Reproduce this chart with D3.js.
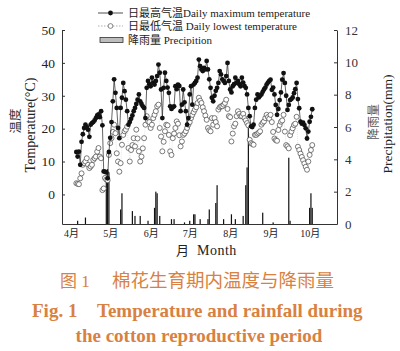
<!DOCTYPE html>
<html>
<head>
<meta charset="utf-8">
<script src="https://cdn.jsdelivr.net/npm/d3@7"></script>
<style>
    html, body { margin: 0; padding: 0; background: #fff; }
    svg { display: block; }
    text { font-family: "Liberation Serif", "Noto Sans CJK SC", serif; }
</style>
</head>
<body>
<div id="chart"></div>
<script>
const year = 2018;
const firstDay = "04-05";

// daily maximum temperature, Apr 5 – Oct 3 (°C)
const tMax = [
    12.9, 11.5, 13, 9, 16, 18.3, 20.2, 21.2, 20.5, 19.7,
    17.5, 21.2, 21.7, 22, 22.5, 23.2, 24, 24.3, 23.5, 25.3,
    21, 7, 6.9, 6.7, 4.9, 12.9, 17.2, 22, 28.3, 35,
    30.9, 26.3, 20.2, 17.1, 26.3, 29.4, 33.9, 31.4, 28.8, 25.3,
    21.2, 22, 23, 24, 25.3, 26.3, 27.5, 28.8, 30.4, 28.3,
    27.5, 26.8, 26.3, 23.2, 32.4, 34.5, 33.5, 32.9, 35.5, 34,
    33.4, 34.5, 36, 39.5, 37, 31.9, 23.2, 32.4, 37, 34.5,
    32.5, 30.9, 26.8, 26, 26.5, 26.8, 32.9, 32, 33.4, 33,
    25.3, 27.3, 31.9, 28, 25.3, 21.2, 23.2, 30.4, 32.9, 27.3,
    33.4, 33.9, 34.5, 35.5, 41, 39, 38, 37.5, 38.5, 38,
    40.6, 38, 35, 32.4, 29.4, 28.3, 30, 31.5, 32.4, 33.9,
    37.5, 36.5, 35, 34.5, 33.9, 36, 40, 34.5, 31.9, 31,
    32.9, 33.5, 35.5, 33.9, 34.5, 33.5, 32.9, 35.5, 34, 33,
    32.4, 30.4, 26.3, 23.8, 20.7, 20.5, 21.2, 26.3, 28.8, 30.4,
    29.5, 30, 30.4, 31.2, 31.9, 32.5, 33.4, 34, 34.5, 34.9,
    31.8, 32.5, 30.4, 27.2, 24.2, 26, 28.7, 31, 34.9, 36.9,
    33.9, 30, 25.7, 27.2, 28.7, 29, 29.5, 30.8, 32, 33.9,
    29, 26.2, 22.1, 21.5, 21.8, 21.1, 20.1, 17, 19.1, 22.1,
    23.6, 25.9
];

// daily lowest temperature, same days (°C)
const tMin = [
    3.4, 3.2, 3.1, 4.9, 6.4, 9, 9.5, 10, 11, 9,
    8, 8.5, 9, 10.5, 11, 11.5, 13, 14.1, 11.5, 11,
    1.3, 1.8, 5, 4.5, 4.3, 12, 15.6, 17.1, 19, 21.2,
    18.6, 12.5, 10, 6.9, 9.5, 15.1, 18.1, 19.2, 19.7, 20.6,
    14.1, 10, 13.5, 15, 17.1, 14.6, 19.7, 17, 13.1, 10,
    11.5, 14, 17.1, 21.2, 23.8, 22.2, 22, 20.2, 21.2, 23.2,
    24.2, 25.3, 26.8, 27.3, 20.2, 17.6, 13.1, 16, 19.2, 21.2,
    21, 18.1, 13.1, 12, 17.1, 18.5, 20.2, 22.2, 21.5, 18,
    14.6, 16.1, 18.1, 18.5, 19.2, 20.2, 21.2, 22, 23.2, 24.2,
    25, 25.8, 26.5, 27.8, 29.4, 28.5, 27.8, 26.5, 25.3, 24,
    22.7, 20.2, 19.5, 19.2, 23.2, 21.2, 23.2, 22, 20.7, 25.8,
    26.5, 26.8, 26.8, 27.3, 27.8, 28.8, 26, 23.8, 23.5, 16.1,
    18.5, 20.7, 21.5, 23.8, 25.3, 24.5, 23.8, 23.8, 24.5, 23.2,
    22.5, 21.7, 21, 16.6, 15.6, 15.3, 15.1, 18.1, 18.1, 18.5,
    18.8, 19.2, 21.2, 21.8, 22.2, 23.2, 24.2, 23.5, 23, 24.2,
    22, 19, 17, 16.5, 16.3, 19.6, 21.1, 22.1, 22.5, 24.2,
    19.1, 15, 14.6, 14, 18, 19.1, 20.1, 21.1, 21.5, 23.6,
    14.5, 13.5, 12.4, 11.4, 10.4, 9.4, 8.4, 7.5, 10, 12,
    13.5, 15
];

const rainDays = [
    "04-06", "04-12", "04-28", "04-29", "04-30", "05-09", "05-10", "05-18", "05-20", "05-24",
    "05-30", "06-04", "06-05", "06-06", "06-08", "06-17", "06-19", "06-27", "07-01", "07-04",
    "07-05", "07-09", "07-15", "07-16", "07-21", "07-22", "07-27", "08-02", "08-05", "08-11",
    "08-13", "08-14", "08-15", "08-26", "09-03", "09-15", "09-16", "10-01", "10-02", "10-03"
];
const rainMm = [
    0.2, 0.4, 2.8, 3.4, 3.2, 0.9, 1.9, 0.8, 0.5, 0.5,
    0.2, 1.0, 2.0, 1.9, 0.5, 0.3, 0.3, 0.1, 0.2, 0.6,
    0.6, 0.3, 0.3, 0.9, 1.3, 2.4, 0.3, 0.6, 0.3, 0.5,
    2.4, 3.5, 6.2, 0.7, 0.1, 4.1, 0.2, 1.0, 1.9, 1.0
];

const monthStarts = ["04-01", "05-01", "06-01", "07-01", "08-01", "09-01", "10-01"];
const monthLabels = ["4月", "5月", "6月", "7月", "8月", "9月", "10月"];
const tempTicks = [0, 10, 20, 30, 40, 50];
const rainTicks = [0, 2, 4, 6, 8, 10, 12];

const legendLabels = [
    "日最高气温Daily maximum temperature",
    "日最低气温 Daily lowest temperature",
    "降雨量 Precipition"
];
const captionCn = ["图 1", "棉花生育期内温度与降雨量"];
const captionEn = ["Fig. 1", "Temperature and rainfall during", "the cotton reproductive period"];

const W = 400, H = 351;
const orange = "#d98140";
const parseDay = d3.timeParse("%Y-%m-%d");
const toDate = md => parseDay(`${year}-${md}`);

renderChart(document.querySelector("#chart"));

function renderChart(parent){
    const svg = d3.select(parent).append("svg")
        .attr("width", W)
        .attr("height", H);

    const x = d3.scaleTime()
        .domain([toDate("03-25"), toDate("10-22")])
        .range([62, 337]);
    const yT = d3.scaleLinear().domain([-9, 50]).range([224, 30]);
    const yP = d3.scaleLinear().domain([0, 12]).range([224, 30]);

    const start = toDate(firstDay);
    const days = tMax.map((v, i) => ({
        date: d3.timeDay.offset(start, i),
        max: v,
        min: tMin[i]
    }));
    const rain = rainDays.map((d, i) => ({date: toDate(d), mm: rainMm[i]}));

    // rain bars
    svg.append("g")
        .selectAll("rect")
        .data(rain)
        .join("rect")
        .attr("x", d => x(d.date) - 0.6)
        .attr("width", 1.2)
        .attr("y", d => yP(d.mm))
        .attr("height", d => yP(0) - yP(d.mm))
        .attr("fill", "#111");

    // lowest temperature
    svg.append("path")
        .datum(days)
        .attr("d", d3.line().x(d => x(d.date)).y(d => yT(d.min)))
        .attr("fill", "none")
        .attr("stroke", "#cfcfcf")
        .attr("stroke-width", 0.5)
        .attr("stroke-dasharray", "1,1");

    svg.append("g")
        .selectAll("circle")
        .data(days)
        .join("circle")
        .attr("cx", d => x(d.date))
        .attr("cy", d => yT(d.min))
        .attr("r", 2.5)
        .attr("fill", "#fff")
        .attr("stroke", "#444")
        .attr("stroke-width", 0.7);

    // maximum temperature
    svg.append("path")
        .datum(days)
        .attr("d", d3.line().x(d => x(d.date)).y(d => yT(d.max)))
        .attr("fill", "none")
        .attr("stroke", "#222")
        .attr("stroke-width", 0.7);

    svg.append("g")
        .selectAll("circle")
        .data(days)
        .join("circle")
        .attr("cx", d => x(d.date))
        .attr("cy", d => yT(d.max))
        .attr("r", 2.4)
        .attr("fill", "#111");

    // axes
    const left = svg.append("g")
        .attr("transform", "translate(62,0)")
        .call(d3.axisLeft(yT).tickValues(tempTicks).tickSize(-3).tickSizeOuter(0).tickPadding(7));
    left.selectAll("text")
        .attr("font-family", "Liberation Serif")
        .attr("font-size", 13.5)
        .attr("fill", "#222");

    const right = svg.append("g")
        .attr("transform", "translate(337,0)")
        .call(d3.axisRight(yP).tickValues(rainTicks).tickSize(-3).tickSizeOuter(0).tickPadding(8));
    right.selectAll("text")
        .attr("font-family", "Liberation Sans")
        .attr("font-size", 13)
        .attr("fill", "#333");

    const bottom = svg.append("g")
        .attr("transform", "translate(0,224)")
        .call(d3.axisBottom(x)
            .tickValues(monthStarts.map(toDate))
            .tickFormat((d, i) => monthLabels[i])
            .tickSize(0)
            .tickSizeOuter(0)
            .tickPadding(6));
    bottom.selectAll("text")
        .attr("font-family", "Liberation Serif, Noto Sans CJK SC")
        .attr("font-size", 10)
        .attr("fill", "#222");

    svg.selectAll(".domain, .tick line")
        .attr("stroke", "#333")
        .attr("stroke-width", 1);

    // axis titles
    svg.append("text")
        .attr("transform", "translate(20,121) rotate(-90)")
        .attr("text-anchor", "middle")
        .attr("font-size", 12.5)
        .attr("fill", "#333")
        .text("温度");
    svg.append("text")
        .attr("transform", "translate(35,125) rotate(-90)")
        .attr("text-anchor", "middle")
        .attr("font-size", 14)
        .attr("fill", "#222")
        .text("Temperature(°C)");
    svg.append("text")
        .attr("transform", "translate(378,122) rotate(-90)")
        .attr("text-anchor", "middle")
        .attr("font-size", 12)
        .attr("fill", "#555")
        .text("降雨量");
    svg.append("text")
        .attr("transform", "translate(392,124) rotate(-90)")
        .attr("text-anchor", "middle")
        .attr("font-size", 13.5)
        .attr("fill", "#222")
        .text("Precipitation(mm)");
    svg.append("text")
        .attr("x", 176)
        .attr("y", 255)
        .attr("font-size", 13)
        .attr("fill", "#222")
        .text("月");
    svg.append("text")
        .attr("x", 197)
        .attr("y", 255)
        .attr("font-size", 14)
        .attr("letter-spacing", 0.5)
        .attr("fill", "#222")
        .text("Month");

    renderLegend(svg);
    renderCaption(svg);
}

function renderLegend(svg){
    const g = svg.append("g").attr("font-size", 11).attr("fill", "#222");
    const rows = [13, 26, 40];

    g.append("line").attr("x1", 98).attr("x2", 123).attr("y1", rows[0]).attr("y2", rows[0])
        .attr("stroke", "#222").attr("stroke-width", 0.8);
    g.append("circle").attr("cx", 110.5).attr("cy", rows[0]).attr("r", 2.4).attr("fill", "#111");

    g.append("line").attr("x1", 98).attr("x2", 123).attr("y1", rows[1]).attr("y2", rows[1])
        .attr("stroke", "#999").attr("stroke-width", 0.8).attr("stroke-dasharray", "1.5,1.5");
    g.append("circle").attr("cx", 110.5).attr("cy", rows[1]).attr("r", 2.4)
        .attr("fill", "#fff").attr("stroke", "#555").attr("stroke-width", 0.7);

    g.append("rect").attr("x", 100).attr("y", rows[2] - 2.5).attr("width", 23).attr("height", 5)
        .attr("fill", "#bdbdbd").attr("stroke", "#333").attr("stroke-width", 0.8);

    g.selectAll("text.legend")
        .data(legendLabels)
        .join("text")
        .attr("class", "legend")
        .attr("x", 128)
        .attr("y", (d, i) => rows[i] + 4)
        .text(d => d);
}

function renderCaption(svg){
    const g = svg.append("g").attr("fill", orange);

    g.append("text")
        .attr("x", 60).attr("y", 287)
        .attr("font-family", "Noto Sans CJK SC")
        .attr("font-size", 17)
        .text(captionCn[0]);
    g.append("text")
        .attr("x", 112).attr("y", 287)
        .attr("font-family", "Noto Sans CJK SC")
        .attr("font-size", 18.5)
        .text(captionCn[1]);

    g.append("text")
        .attr("x", 32).attr("y", 317)
        .attr("font-weight", "bold")
        .attr("font-size", 19)
        .text(captionEn[0]);
    g.append("text")
        .attr("x", 97).attr("y", 317)
        .attr("font-weight", "bold")
        .attr("font-size", 19)
        .text(captionEn[1]);
    g.append("text")
        .attr("x", 199).attr("y", 342)
        .attr("text-anchor", "middle")
        .attr("font-weight", "bold")
        .attr("font-size", 19)
        .text(captionEn[2]);
}
</script>
</body>
</html>
